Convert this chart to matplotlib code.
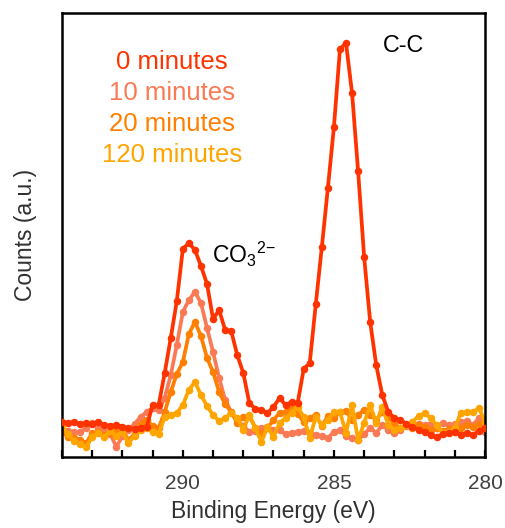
import numpy as np
import matplotlib
matplotlib.use('Agg')
import matplotlib.pyplot as plt
from matplotlib.ticker import MultipleLocator

plt.rcParams['font.family'] = ['Liberation Sans', 'DejaVu Sans']
plt.rcParams['mathtext.fontset'] = 'custom'
plt.rcParams['mathtext.rm'] = 'Liberation Sans'
plt.rcParams['mathtext.it'] = 'Liberation Sans'

# XPS C 1s scan, 0.2 eV steps
binding_energy = np.round(np.arange(294.0, 279.9, -0.2), 1)

counts_0 = [38, 37, 38, 36, 37, 36, 38, 35, 34, 35,
            33, 32, 31, 32, 33, 55, 55, 87, 122, 159,
            211, 217, 210, 194, 176, 141, 150, 130, 129, 105,
            87, 57, 51, 50, 47, 53, 62, 55, 58, 57,
            91, 97, 156, 213, 272, 333, 411, 417, 367, 289,
            203, 138, 95, 65, 48, 42, 40, 36, 33, 30,
            28, 25, 23, 26, 27, 28, 25, 27, 25, 29, 32]
counts_10 = [32, 29, 28, 28, 32, 37, 32, 29, 26, 13,
             24, 30, 36, 43, 48, 52, 50, 62, 85, 115,
             148, 160, 168, 157, 132, 108, 82, 60, 48, 40,
             34, 28, 29, 32, 33, 30, 30, 26, 27, 28,
             29, 27, 25, 24, 22, 28, 30, 24, 22, 20,
             26, 32, 27, 35, 30, 27, 30, 34, 37, 36,
             35, 36, 32, 37, 35, 36, 38, 39, 35, 42, 28]
counts_20 = [28, 23, 22, 20, 17, 27, 28, 25, 27, 31,
             30, 20, 26, 36, 40, 34, 32, 48, 68, 86,
             98, 126, 138, 124, 102, 88, 68, 56, 48, 37,
             43, 44, 32, 26, 32, 40, 47, 48, 52, 46,
             38, 42, 45, 34, 44, 42, 48, 49, 40, 45,
             50, 45, 40, 48, 43, 36, 32, 35, 32, 35,
             33, 30, 32, 29, 31, 28, 32, 35, 33, 36, 33]
counts_120 = [33, 26, 19, 16, 13, 23, 27, 23, 29, 24,
              28, 17, 24, 30, 32, 28, 26, 43, 45, 47,
              55, 70, 78, 65, 54, 45, 39, 42, 47, 42,
              30, 45, 32, 18, 33, 23, 37, 42, 47, 53,
              43, 22, 43, 35, 40, 48, 48, 27, 55, 20,
              37, 55, 37, 53, 35, 30, 32, 35, 38, 44,
              47, 42, 35, 27, 28, 32, 47, 48, 48, 52, 38]

labels = ['0 minutes', '10 minutes', '20 minutes', '120 minutes']
colors = ['#FF3300', '#FA7A55', '#FF8000', '#FFA500']
series = [counts_0, counts_10, counts_20, counts_120]

fig = plt.figure(figsize=(5.06, 5.28), dpi=100)
ax = fig.add_axes([0.1225, 0.1345, 0.836, 0.8409])

# draw order: 10, 20, 120 min below, 0 min on top
for i in [1, 2, 3, 0]:
    ax.plot(binding_energy, series[i], color=colors[i], lw=2.7,
            marker='o', ms=4.4, zorder=2 + (i == 0))

ax.set_xlim(294, 280)
ax.set_ylim(3, 447)
ax.xaxis.set_major_locator(MultipleLocator(5))
ax.xaxis.set_minor_locator(MultipleLocator(1))
ax.tick_params(axis='x', which='both', direction='in', length=5, width=1.6,
               labelsize=15, labelcolor='#404040', pad=12)
ax.set_yticks([])
for s in ax.spines.values():
    s.set_linewidth(1.8)

ax.set_xlabel('Binding Energy (eV)', fontsize=16.5, color='#303030', labelpad=5)
ax.set_ylabel('Counts (a.u.)', fontsize=16.5, color='#303030', labelpad=18)

for j, (lab, c) in enumerate(zip(labels, colors)):
    ax.text(290.37, 398 - j * 31, lab, color=c, fontsize=18.5,
            ha='center', va='center')

ax.text(283.37, 414, 'C-C', fontsize=16.8, color='black', ha='left', va='center')
ax.text(289.05, 206, r'CO$_3$$^{2\mathrm{-}}$', fontsize=16.5, color='black',
        ha='left', va='center')

fig.savefig('out.png', dpi=100)
